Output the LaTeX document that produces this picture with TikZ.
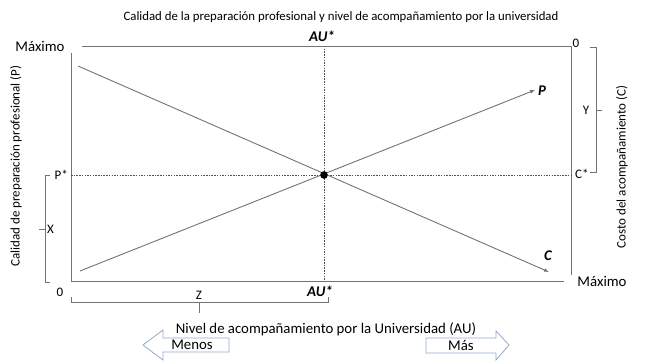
\documentclass[tikz,border=0pt]{standalone}
\usepackage{fontspec}
\setmainfont{Carlito}
\usetikzlibrary{arrows.meta}

\definecolor{axisgray}{RGB}{115,115,115}
\definecolor{dotgray}{RGB}{80,80,80}
\definecolor{blockblue}{RGB}{145,170,205}

\begin{document}
\begin{tikzpicture}[x=1pt,y=-1pt,
    axis/.style={draw=axisgray,line width=0.9pt},
    guide/.style={draw=dotgray,line width=0.7pt,dash pattern=on 1.5pt off 1.2pt},
    trend/.style={draw=axisgray,line width=0.9pt,-{Latex[length=5pt,width=4pt]}},
    brace/.style={draw=axisgray,line width=0.9pt},
    lbl/.style={font=\fontsize{14.8}{17}\selectfont,inner sep=1pt},
    small/.style={font=\fontsize{13}{15}\selectfont,inner sep=1pt},
    sidelbl/.style={font=\fontsize{13}{15}\selectfont,inner sep=1pt,rotate=90},
    star/.style={font=\fontsize{14.8}{17}\selectfont\bfseries\itshape,inner sep=1pt},
    block/.style={draw=blockblue,line width=0.8pt,fill=white}]
    \useasboundingbox (0,0) rectangle (647,361);

    % Title
    \node[font=\fontsize{12.8}{15}\selectfont] (title) at (341,17) {Calidad de la preparación profesional y nivel de acompañamiento por la universidad};

    % Frame of the diagram
    \coordinate (tl) at (82,46);
    \coordinate (tr) at (571,46);
    \coordinate (lt) at (71,53);
    \coordinate (o) at (71,281);
    \coordinate (br) at (564,281);
    \coordinate (rb) at (571,275);
    \draw[axis] (tl) -- (tr) -- (rb);
    \draw[axis] (lt) -- (o) -- (br);

    % Equilibrium guides
    \coordinate (eq) at (324,175);
    \draw[guide] (71,175) -- (573,175);
    \draw[guide] (324,46) -- (324,281);

    % P and C lines
    \coordinate (p0) at (80,271);
    \coordinate (p1) at (535,90);
    \coordinate (c0) at (78,66);
    \coordinate (c1) at (549,272);
    \draw[trend] (p0) -- (p1);
    \draw[trend] (c0) -- (c1);
    \fill (eq) circle (3.8pt);
    \node[star] (plab) at (542,91) {P};
    \node[star] (clab) at (548,256) {C};

    % Axis labels
    \node[lbl] (maxtop) at (40,46) {Máximo};
    \node[small] (zerotop) at (576,43) {0};
    \node[small] (zerobot) at (60,292) {0};
    \node[lbl] (maxbot) at (602,281) {Máximo};
    \node[star] (autop) at (322,36) {AU*};
    \node[star] (aubot) at (320,291) {AU*};
    \node[small,anchor=east] (pstar) at (69,175) {P*};
    \node[small,anchor=west] (cstar) at (574,174) {C*};
    \node[sidelbl] (plabel) at (16,166) {Calidad de preparación profesional (P)};
    \node[sidelbl] (clabel) at (622,167) {Costo del acompañamiento (C)};

    % Brackets
    \draw[brace] (50,175) -- (45,175) -- (45,282) -- (50,282);
    \draw[brace] (45,229) -- (39,229);
    \node[small,anchor=west] (xlab) at (46,229) {X};
    \draw[brace] (590,47) -- (596,47) -- (596,172) -- (590,172);
    \draw[brace] (596,110) -- (602,110);
    \node[small] (ylab) at (586,110) {Y};
    \draw[brace] (71,297) -- (71,302) -- (328,302) -- (328,297);
    \draw[brace] (199,302) -- (199,313);
    \node[small] (zlab) at (199,295) {Z};

    % Horizontal axis title and direction blocks
    \node[lbl] (aulabel) at (326,329) {Nivel de acompañamiento por la Universidad (AU)};
    \draw[block] (143,345) -- (163,330) -- (163,338) -- (229,338) -- (229,352)
        -- (163,352) -- (163,360) -- cycle;
    \draw[block] (426,338) -- (496,338) -- (496,331) -- (509,345) -- (496,360)
        -- (496,353) -- (426,353) -- cycle;
    \node[lbl] (menos) at (192,345) {Menos};
    \node[lbl] (mas) at (461,345) {Más};
\end{tikzpicture}
\end{document}
